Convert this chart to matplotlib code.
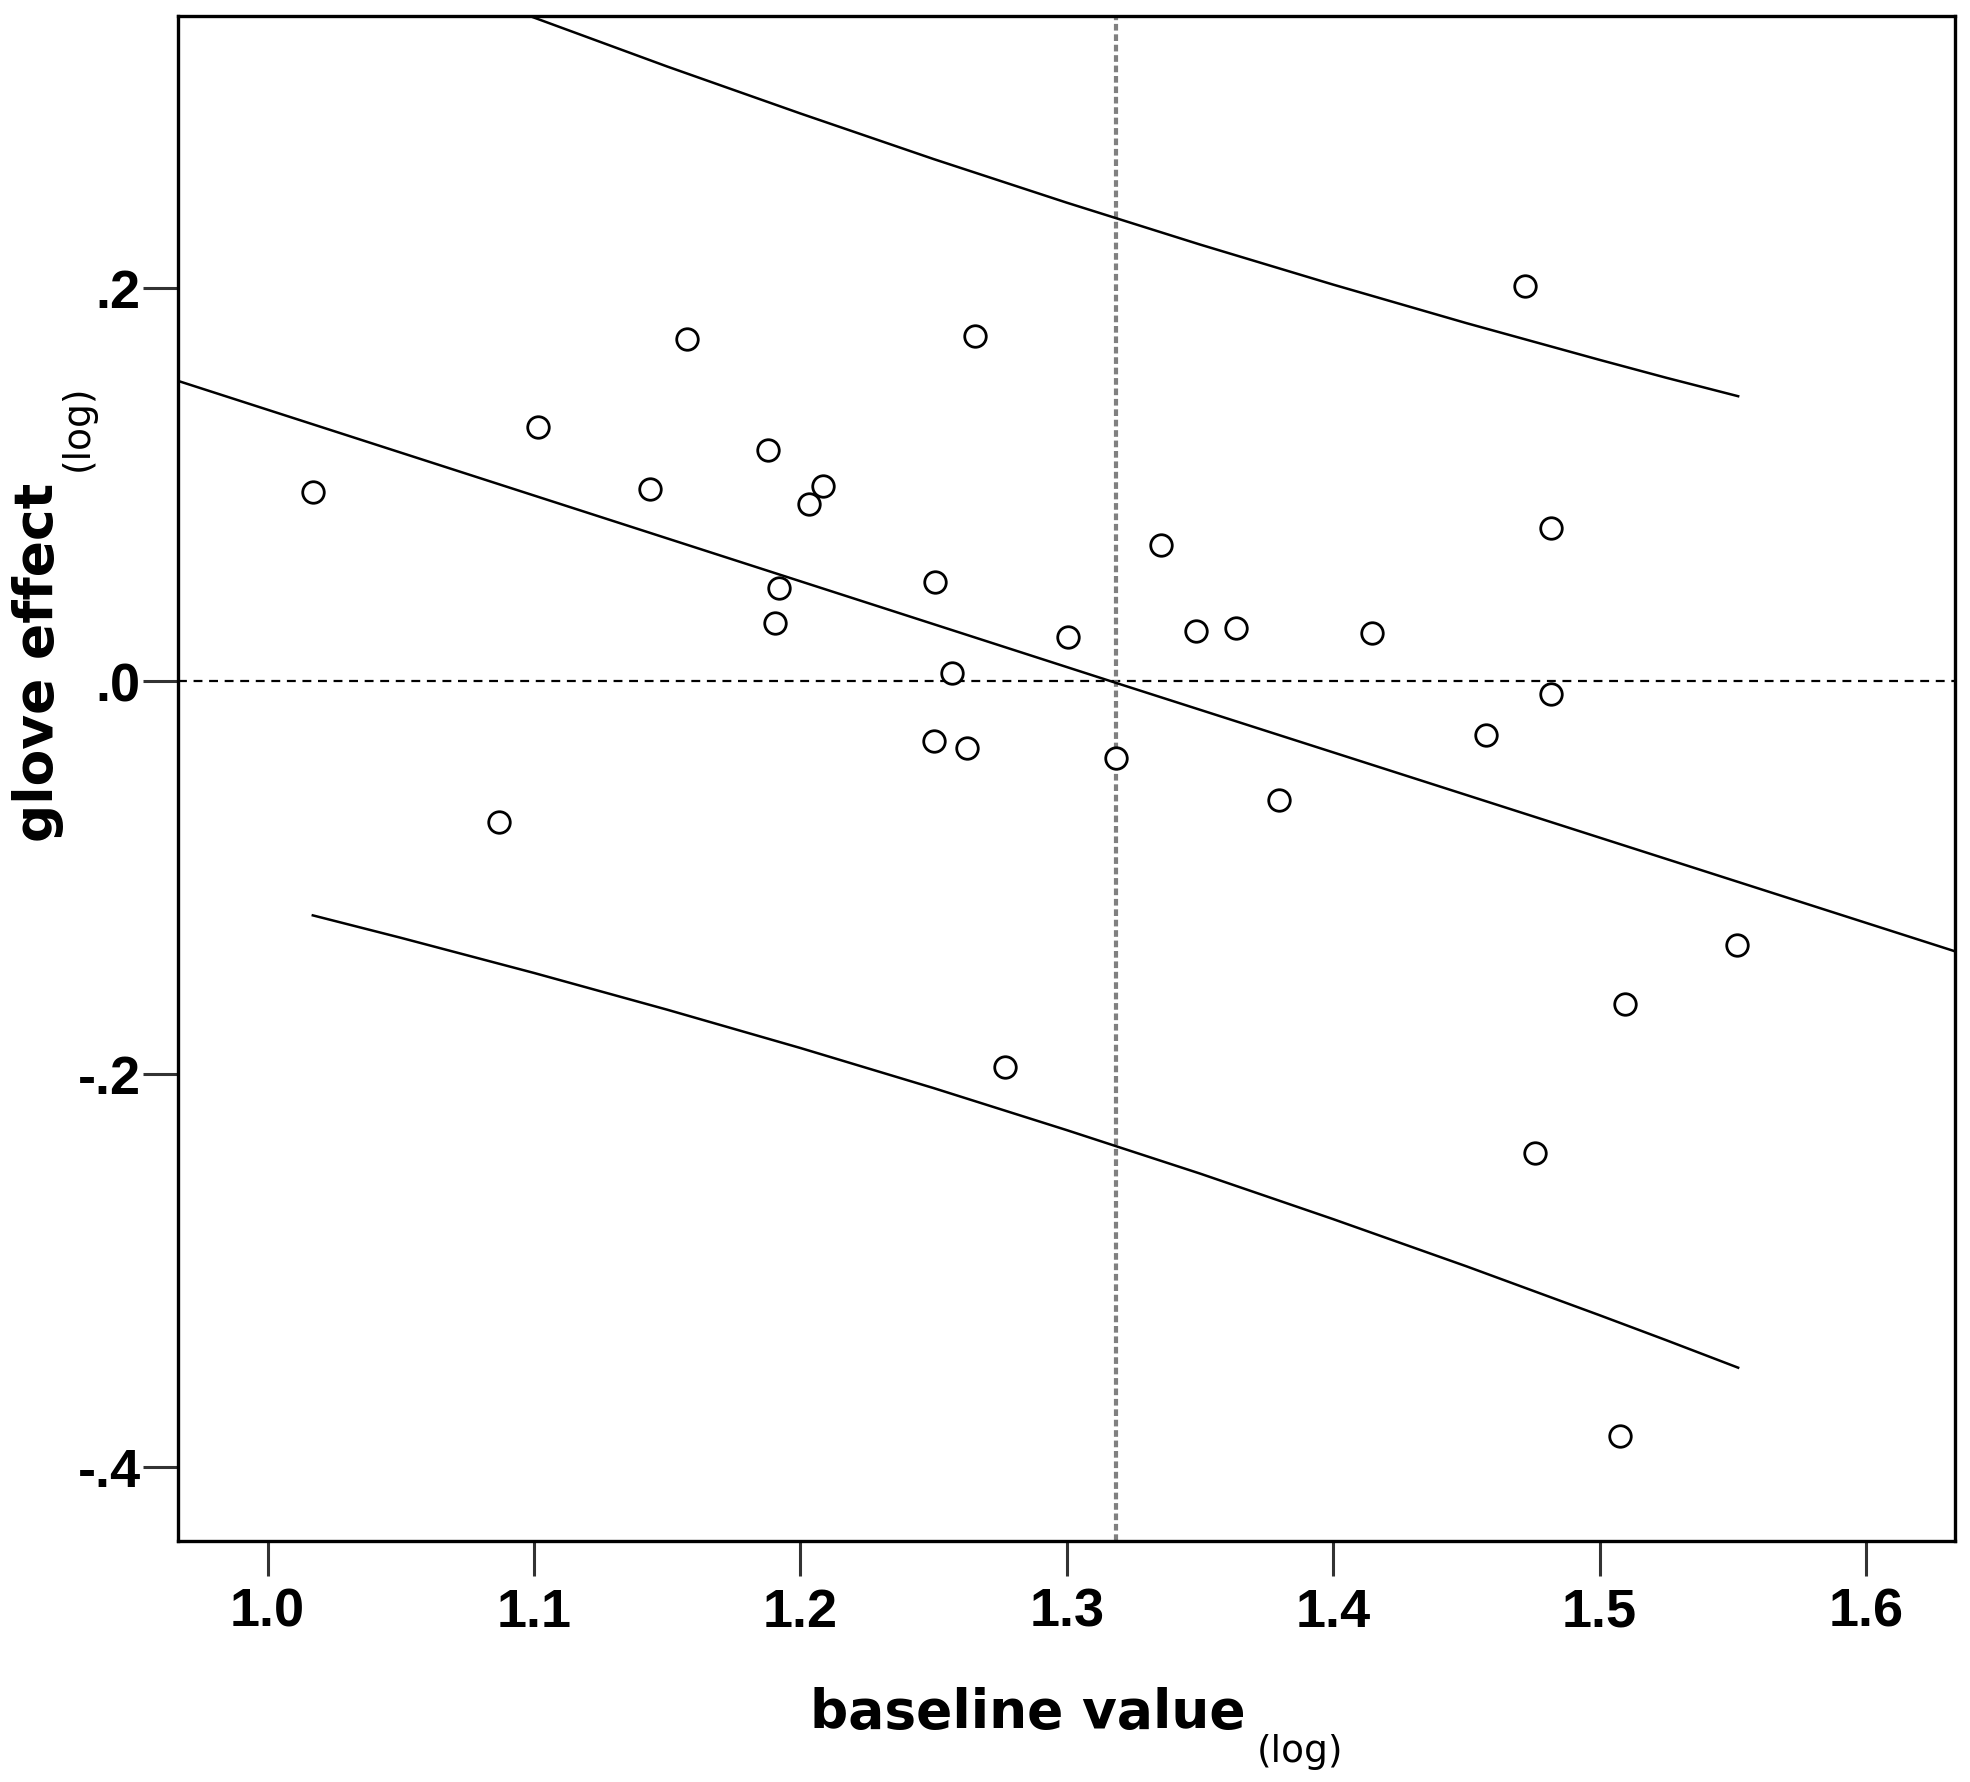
import matplotlib
matplotlib.use("Agg")
import matplotlib.pyplot as plt

# ---- data ----
baseline = [1.017, 1.0868, 1.1014, 1.1434, 1.1575, 1.1877, 1.1906, 1.192, 1.2033, 1.2085,
            1.250, 1.2505, 1.257, 1.2627, 1.2656, 1.2769, 1.3005, 1.3184, 1.3354, 1.3486,
            1.3637, 1.3797, 1.4146, 1.4575, 1.4719, 1.4757, 1.4816, 1.4816, 1.5076, 1.5094,
            1.5514]
glove = [0.096, -0.0717, 0.129, 0.0979, 0.174, 0.1177, 0.0294, 0.0473, 0.0902, 0.0992,
         -0.0307, 0.0505, 0.0038, -0.0339, 0.1753, -0.1964, 0.0224, -0.039, 0.0691, 0.0256,
         0.0269, -0.0608, 0.0243, -0.0275, 0.2012, -0.2402, 0.078, -0.0064, -0.3841, -0.1644,
         -0.1344]

fit_x = [0.9664, 1.3185, 1.6334]
fit_y = [0.1527, -0.001, -0.1376]

band_x = [1.017, 1.05, 1.10, 1.15, 1.20, 1.25, 1.30, 1.35, 1.40, 1.45, 1.50, 1.525, 1.552]
upper_y = [0.3807, 0.3633, 0.3376, 0.3127, 0.2888, 0.2656, 0.2434, 0.2221, 0.2017, 0.1821,
           0.1634, 0.1543, 0.1449]
lower_y = [-0.1193, -0.1307, -0.1486, -0.1673, -0.1868, -0.2072, -0.2286, -0.2507, -0.2739,
           -0.2979, -0.3228, -0.3355, -0.3495]

mean_baseline = 1.3185

xticks = [1.0, 1.1, 1.2, 1.3, 1.4, 1.5, 1.6]
xticklabels = ["1.0", "1.1", "1.2", "1.3", "1.4", "1.5", "1.6"]
yticks = [0.2, 0.0, -0.2, -0.4]
yticklabels = [".2", ".0", "-.2", "-.4"]

W, H = 1970, 1783
fig = plt.figure(figsize=(W / 100, H / 100), dpi=100)
ax = fig.add_axes([178 / W, 1 - 1542 / H, (1955 - 178) / W, (1542 - 17) / H])

ax.axhline(0, color="black", lw=1.6, ls=(0, (4, 3)), zorder=1)
ax.axvline(mean_baseline, color="#808080", lw=3.0, ls=(0, (1.6, 0.9)), zorder=1)

ax.plot(fit_x, fit_y, color="black", lw=1.8, zorder=2)
ax.plot(band_x, upper_y, color="black", lw=1.8, zorder=2)
ax.plot(band_x, lower_y, color="black", lw=1.8, zorder=2)

ax.plot(baseline, glove, ls="none", marker="o", ms=15.5, mfc="white", mec="black", mew=2.0, zorder=3)

ax.set_xlim(0.9664, 1.6334)
ax.set_ylim(-0.4377, 0.3384)
ax.set_xticks(xticks)
ax.set_xticklabels(xticklabels)
ax.set_yticks(yticks)
ax.set_yticklabels(yticklabels)

for s in ax.spines.values():
    s.set_linewidth(2.4)
    s.set_color("black")

ax.tick_params(axis="both", direction="out", length=25, width=2.2, color="#333333")
ax.tick_params(axis="x", pad=8)
ax.tick_params(axis="y", pad=2)
for lab in ax.get_xticklabels() + ax.get_yticklabels():
    lab.set_fontfamily("Liberation Sans")
    lab.set_fontweight("bold")
    lab.set_fontsize(39)

fig.canvas.draw()
r = fig.canvas.get_renderer()

# x label
t1 = fig.text(810 / W, 1 - 1728 / H, "baseline value", fontsize=38.5, fontweight="bold",
              family="DejaVu Sans", ha="left", va="baseline")
bb = t1.get_window_extent(r)
fig.text((bb.x1 + 11) / W, 1 - 1762 / H, "(log)", fontsize=27, family="DejaVu Sans",
         ha="left", va="baseline")

# y label
t2 = fig.text(53 / W, 1 - 842 / H, "glove effect", fontsize=38.5, fontweight="bold",
              family="DejaVu Sans", ha="left", va="baseline", rotation=90, rotation_mode="anchor")
bb2 = t2.get_window_extent(r)
fig.text(88 / W, (bb2.y1 + 12) / H, "(log)", fontsize=27, family="DejaVu Sans",
         ha="left", va="baseline", rotation=90, rotation_mode="anchor")

fig.savefig("out.png", dpi=100, facecolor="white")
